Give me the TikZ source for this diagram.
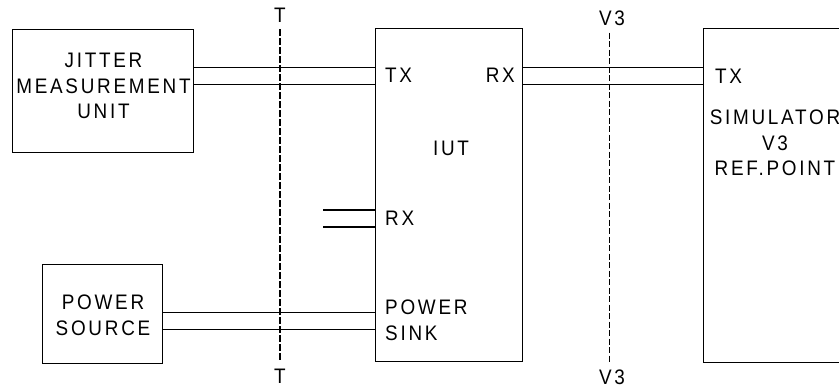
\documentclass[tikz,border=0pt]{standalone}
\usepackage{fontspec}
\setmainfont{Liberation Sans}[FakeStretch=0.9, LetterSpace=13]
\usetikzlibrary{positioning}
\tikzset{
  box/.style   = {draw, line width=1pt, outer sep=0pt, inner sep=0pt, align=center},
  wire/.style  = {draw, line width=0.9pt},
  wireb/.style = {draw, line width=1.6pt},
  tline/.style = {line width=2pt, dash pattern=on 7pt off 2pt},
  vline/.style = {line width=0.9pt, dash pattern=on 6pt off 2.5pt},
  port/.style  = {anchor=west, inner sep=0pt, align=left},
  refl/.style  = {inner sep=7pt}
}
\begin{document}
\begin{tikzpicture}[x=1pt, y=-1pt, font=\fontsize{21}{25.5}\selectfont]
  \useasboundingbox (0,0) rectangle (839,388);
  \clip (0,0) rectangle (839,388);

  % boxes
  \node[box, minimum width=181pt, minimum height=123pt] (jmu) at (102.5,90.5) {};
  \node[align=center, inner sep=0pt] (jmutxt) at (103.5,86) {JITTER\\MEASUREMENT\\UNIT};
  \node[box, minimum width=120pt, minimum height=99pt] (pws) at (102,313.5) {};
  \node[align=center, inner sep=0pt] (pwstxt) at (103,315.5) {POWER\\SOURCE};
  \node[box, minimum width=147pt, minimum height=333pt] (iut) at (448.5,194.5) {};
  \node[box, minimum width=150pt, minimum height=334pt] (sim) at (778,195) {};
  \node[align=center, inner sep=0pt] (simtxt) at (775,143) {SIMULATOR\\V3\\REF.POINT};

  % ports
  \node[port] (iuttx) at (385,75.5) {TX};
  \node[port, anchor=east] (iutrx) at (515,75.5) {RX};
  \node[inner sep=0pt] (iutname) at (451,148) {IUT};
  \node[port] (iutrx2) at (385,218.5) {RX};
  \node[port] (sink) at (385,320.5) {POWER\\SINK};
  \node[port] (simtx) at (715,76) {TX};

  % interfaces
  \coordinate (rxend) at (323,218.5);
  \foreach \d in {-8.5,8.5} {
    \draw[wire] ([yshift=\d pt]jmu.east |- iuttx) -- ([yshift=\d pt]iut.west |- iuttx);
    \draw[wire] ([yshift=\d pt]iut.east |- iuttx) -- ([yshift=\d pt]sim.west |- iuttx);
    \draw[wireb] ([yshift=\d pt]rxend) -- ([yshift=\d pt]iut.west |- rxend);
    \draw[wire] ([yshift=\d pt]pws.east |- sink) -- ([yshift=\d pt]iut.west |- sink);
  }

  % reference points
  \node[refl] (tt) at (280,15) {T};
  \node[refl] (tb) at (280,376) {T};
  \node[refl] (vt) at (612,18) {V3};
  \node[refl] (vb) at (612,377) {V3};
  \draw[tline] (tt) -- (tb);
  \draw[vline] (vt.south -| 609,0) -- (vb.north -| 609,0);
\end{tikzpicture}
\end{document}
